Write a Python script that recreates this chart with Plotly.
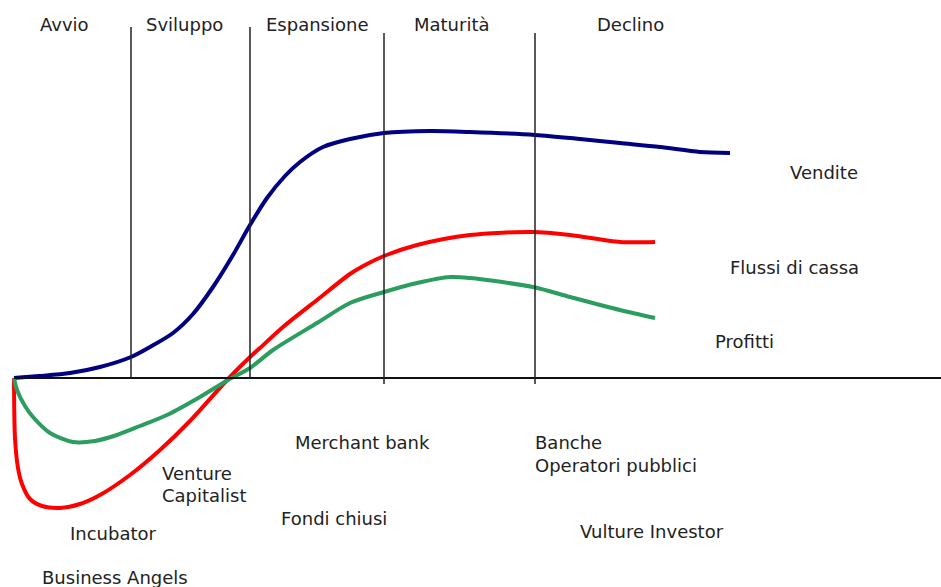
import plotly.graph_objects as go

# Life-cycle stages: boundaries on the time axis and stage names
stage_names = ["Avvio", "Sviluppo", "Espansione", "Maturità", "Declino"]
stage_label_x = [40, 146, 266, 414, 597]
stage_bounds = [131, 250, 384, 535]
stage_bound_top = [351, 351, 345, 345]
stage_bound_bottom = [0, 0, -6, -6]

# Vendite (sales)
sales_t = [14, 40, 70, 100, 131, 150, 173, 193, 213, 233, 250, 267, 285,
           300, 323, 350, 384, 430, 470, 535, 580, 620, 660, 700, 730]
sales_v = [0, 2, 5, 11, 21, 31, 45, 64, 91, 123, 153, 180, 202,
           216, 231, 239, 245, 247, 246, 243, 239, 235, 231, 226, 225]

# Flussi di cassa (cash flows)
cash_t = [14, 15, 18, 22, 30, 42, 60, 80, 100, 130, 160, 190, 228, 250, 260,
          283, 317, 350, 367, 384, 417, 470, 533, 570, 620, 655]
cash_v = [0, -60, -90, -106, -121, -128, -130, -126, -117, -97, -72, -43, -1, 21, 30,
          51, 78, 104, 114, 122, 133, 143, 146, 143, 136, 136]

# Profitti (profits)
prof_t = [14, 17, 25, 33, 50, 73, 95, 117, 140, 167, 200, 228, 250, 273,
          317, 350, 384, 417, 450, 470, 533, 570, 620, 655]
prof_v = [0, -12, -28, -39, -55, -64, -63, -57, -48, -37, -19, -2, 10, 28,
          55, 75, 86, 95, 101, 100, 91, 81, 68, 60]

series_names = ["Vendite", "Flussi di cassa", "Profitti"]
series_label_pos = [(788, 206), (728, 111), (713, 37)]

# Financing sources placed under the axis
source_labels = ["Merchant bank", "Venture", "Capitalist", "Banche", "Operatori pubblici",
                 "Incubator", "Fondi chiusi", "Vulture Investor", "Business Angels"]
source_pos = [(293, -64), (160, -95), (160, -117), (533, -64), (533, -87),
              (68, -155), (279, -140), (578, -153), (40, -199)]

NAVY = "#000080"
RED = "#ff0000"
GREEN = "#2a9d5f"
TEXT = "#222222"
FONT = "DejaVu Sans"

fig = go.Figure()
for t, v, c in [(sales_t, sales_v, NAVY), (cash_t, cash_v, RED), (prof_t, prof_v, GREEN)]:
    fig.add_trace(go.Scatter(x=t, y=v, mode="lines",
                             line=dict(color=c, width=4, shape="spline", smoothing=0.8),
                             hoverinfo="skip", showlegend=False))

shapes = [dict(type="line", xref="x", yref="y", x0=14, x1=941, y0=0, y1=0,
               line=dict(color="#111111", width=2))]
for xb, top, bot in zip(stage_bounds, stage_bound_top, stage_bound_bottom):
    shapes.append(dict(type="line", xref="x", yref="y", x0=xb, x1=xb, y0=bot, y1=top,
                       line=dict(color="#222222", width=1.5)))

annotations = []
for name, x in zip(stage_names, stage_label_x):
    annotations.append(dict(x=x - 2, y=354, text=name))
for name, (x, y) in zip(series_names, series_label_pos):
    annotations.append(dict(x=x, y=y, text=name))
for name, (x, y) in zip(source_labels, source_pos):
    annotations.append(dict(x=x, y=y, text=name))
for a in annotations:
    a.update(xref="x", yref="y", xanchor="left", yanchor="middle", showarrow=False,
             font=dict(family=FONT, size=18, color=TEXT))

fig.update_layout(
    width=941, height=587,
    margin=dict(l=0, r=0, t=0, b=0),
    paper_bgcolor="white", plot_bgcolor="white",
    shapes=shapes, annotations=annotations,
    xaxis=dict(range=[0, 941], visible=False, fixedrange=True),
    yaxis=dict(range=[-209, 378], visible=False, fixedrange=True),
)

fig.write_html("out.html", config={"displayModeBar": False})
